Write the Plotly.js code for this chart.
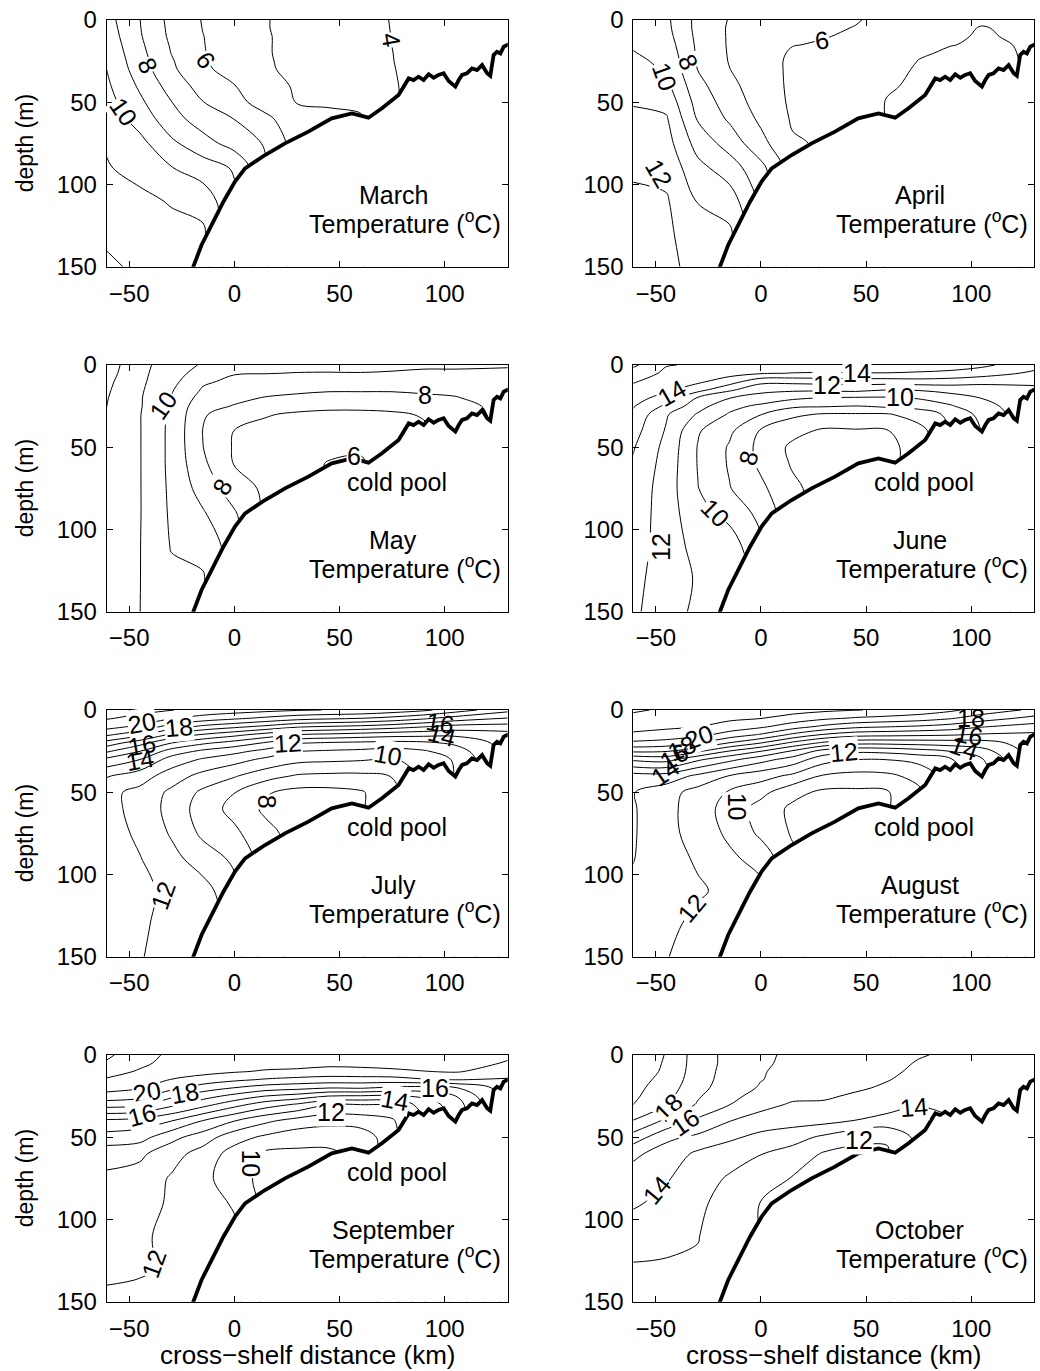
<!DOCTYPE html>
<html>
<head>
<meta charset="utf-8">
<script src="https://cdn.plot.ly/plotly-3.0.1.min.js"></script>
<style>
html,body{margin:0;padding:0;background:#fff;}
#chart{width:1040px;height:1371px;}
</style>
</head>
<body>
<div id="chart"></div>
<script>
// ---------------- DATA ----------------
// cross-shelf stations (km) and depth levels (m)
const stationsKm = [-61, -45, -30, -15, 0, 15, 30, 45, 60, 75, 90, 105, 130];
const depthsM = [0, 5, 10, 15, 20, 25, 30, 40, 50, 60, 75, 90, 110, 130, 150];

const xTicks = [-50, 0, 50, 100];
const yTicks = [0, 50, 100, 150];
const monthNames = ['March', 'April', 'May', 'June', 'July', 'August', 'September', 'October'];
const coldPoolMonths = ['May', 'June', 'July', 'August', 'September'];

// bottom topography (km, m)
const bathyX = [-21, -19.5, -15.6, -10, -5.2, 0.3, 5.1, 14.6, 24.1, 35.2, 46.3, 55.9, 63.8, 70.2, 78.1,
  82.9, 85.2, 87.6, 90.0, 92.4, 94.8, 97.1, 99.5, 101.9, 105.1, 106.7, 108.3, 110.6, 113.0, 115.4,
  117.8, 120.2, 121.7, 123.3, 124.9, 126.5, 128.1, 130.5];
const bathyDepth = [155, 150, 136.8, 122.6, 110.5, 98.3, 90.2, 82.1, 75.0, 67.9, 59.8, 56.8, 59.4, 53.7, 45.6,
  35.5, 36.5, 34.5, 36.5, 33.0, 35.1, 33.4, 32.4, 37.1, 40.5, 36.5, 33.4, 32.4, 29.4, 30.4,
  27.4, 32.4, 33.9, 21.3, 19.3, 20.3, 16.2, 14.8];

// temperature profiles (deg C): one profile per station (stationsKm order), values at depthsM
const tempMarch = [
  [9.4, 9.5, 9.6, 9.7, 9.8, 9.9, 10.02, 10.2, 10.4, 10.6, 10.9, 11.1, 11.6, 11.9, 12.1],
  [8.02, 8.05, 8.1, 8.2, 8.3, 8.4, 8.5, 8.85, 9.2, 9.6, 10.3, 10.6, 11.3, 11.7, 11.9],
  [6.7, 6.75, 6.8, 6.9, 6.98, 7.1, 7.2, 7.6, 8.03, 8.4, 9.2, 10.05, 10.9, 11.4, 11.7],
  [5.95, 5.98, 6.02, 6.03, 6.05, 6.08, 6.15, 6.6, 7.03, 7.5, 8.4, 9.5, 10.6, 11.2, 11.5],
  [5.5, 5.5, 5.55, 5.6, 5.6, 5.65, 5.7, 6.03, 6.3, 6.98, 7.6, 8.9, 9.2, 9.2, 9.2],
  [5.03, 5.03, 5.05, 5.05, 5.05, 5.07, 5.1, 5.3, 5.6, 6.2, 6.9, 7.1, 7.1, 7.1, 7.1],
  [4.8, 4.8, 4.8, 4.8, 4.8, 4.8, 4.8, 4.9, 4.95, 5.4, 5.5, 5.5, 5.5, 5.5, 5.5],
  [4.5, 4.5, 4.5, 4.5, 4.5, 4.5, 4.6, 4.75, 4.9, 5.2, 5.2, 5.2, 5.2, 5.2, 5.2],
  [4.25, 4.25, 4.25, 4.25, 4.25, 4.25, 4.3, 4.5, 4.8, 5.1, 5.1, 5.1, 5.1, 5.1, 5.1],
  [3.97, 3.98, 3.99, 3.995, 4.01, 4.02, 4.04, 4.08, 4.1, 4.1, 4.1, 4.1, 4.1, 4.1, 4.1],
  [3.7, 3.7, 3.7, 3.7, 3.7, 3.7, 3.7, 3.7, 3.7, 3.7, 3.7, 3.7, 3.7, 3.7, 3.7],
  [3.5, 3.5, 3.5, 3.5, 3.5, 3.5, 3.5, 3.5, 3.5, 3.5, 3.5, 3.5, 3.5, 3.5, 3.5],
  [3.4, 3.4, 3.4, 3.4, 3.4, 3.4, 3.4, 3.4, 3.4, 3.4, 3.4, 3.4, 3.4, 3.4, 3.4]
];
const tempApril = [
  [9.6, 9.65, 9.75, 9.9, 10.05, 10.2, 10.35, 10.6, 10.95, 11.15, 11.5, 11.85, 12.2, 12.4, 12.5],
  [9.2, 9.25, 9.35, 9.5, 9.65, 9.8, 9.9, 10.25, 10.7, 11.1, 11.4, 11.7, 12.1, 12.2, 12.3],
  [7.7, 7.7, 7.75, 7.8, 7.85, 7.9, 7.97, 8.3, 8.6, 8.9, 9.6, 10.3, 10.95, 11.4, 11.6],
  [6.95, 6.9, 6.9, 6.9, 6.92, 6.95, 7.02, 7.3, 7.55, 7.85, 8.6, 9.5, 10.5, 11.2, 11.3],
  [6.5, 6.5, 6.5, 6.45, 6.4, 6.35, 6.35, 6.4, 6.55, 6.8, 7.3, 8.3, 8.8, 9.1, 9.1],
  [6.3, 6.25, 6.15, 6.03, 5.9, 5.85, 5.85, 5.85, 5.85, 5.9, 6.1, 6.5, 6.5, 6.5, 6.5],
  [6.2, 6.12, 6.03, 5.93, 5.85, 5.8, 5.75, 5.7, 5.7, 5.75, 5.9, 5.9, 5.9, 5.9, 5.9],
  [6.05, 5.97, 5.9, 5.85, 5.8, 5.75, 5.7, 5.65, 5.6, 5.6, 5.6, 5.6, 5.6, 5.6, 5.6],
  [5.8, 5.7, 5.6, 5.55, 5.5, 5.4, 5.3, 5.1, 4.95, 4.95, 4.95, 4.95, 4.95, 4.95, 4.95],
  [5.5, 5.4, 5.3, 5.2, 5.08, 4.98, 4.9, 4.85, 4.85, 4.85, 4.85, 4.85, 4.85, 4.85, 4.85],
  [5.25, 5.15, 5.08, 5.02, 4.92, 4.88, 4.85, 4.85, 4.85, 4.85, 4.85, 4.85, 4.85, 4.85, 4.85],
  [5.08, 4.97, 4.95, 4.93, 4.9, 4.88, 4.85, 4.85, 4.85, 4.85, 4.85, 4.85, 4.85, 4.85, 4.85],
  [5.3, 5.15, 5.1, 5.05, 5.05, 5.05, 5.05, 5.05, 5.05, 5.05, 5.05, 5.05, 5.05, 5.05, 5.05]
];
const tempMay = [
  [12.5, 12.4, 12.25, 12.15, 12.07, 12.02, 11.95, 11.9, 11.85, 11.8, 11.75, 11.7, 11.65, 11.6, 11.6],
  [11.3, 11.25, 11.2, 11.15, 11.1, 11.1, 11.05, 11.05, 11.05, 11.05, 11.05, 11.05, 11.03, 11.02, 11.01],
  [10.5, 10.4, 10.3, 10.1, 9.95, 9.85, 9.8, 9.75, 9.75, 9.75, 9.8, 9.85, 9.95, 10.2, 10.3],
  [9.9, 9.6, 9.15, 8.9, 8.6, 8.3, 8.1, 7.98, 8.02, 8.2, 8.6, 9.1, 9.7, 10.1, 10.2],
  [9.3, 9.05, 8.8, 8.5, 8.2, 7.95, 7.5, 6.98, 6.9, 6.95, 7.5, 8.1, 8.5, 8.5, 8.5],
  [9.25, 9.02, 8.7, 8.3, 7.95, 7.6, 7.05, 6.8, 6.7, 6.7, 6.8, 6.8, 6.8, 6.8, 6.8],
  [9.2, 8.98, 8.6, 8.2, 7.8, 7.25, 6.9, 6.6, 6.4, 6.3, 6.3, 6.3, 6.3, 6.3, 6.3],
  [9.2, 8.97, 8.5, 8.1, 7.7, 7.2, 6.8, 6.5, 6.2, 5.95, 5.95, 5.95, 5.95, 5.95, 5.95],
  [9.2, 8.98, 8.55, 8.1, 7.7, 7.2, 6.8, 6.4, 6.1, 5.9, 5.9, 5.9, 5.9, 5.9, 5.9],
  [9.15, 8.95, 8.55, 8.1, 7.7, 7.2, 6.9, 6.6, 6.5, 6.5, 6.5, 6.5, 6.5, 6.5, 6.5],
  [9.1, 8.9, 8.55, 8.15, 7.85, 7.45, 7.05, 6.9, 6.9, 6.9, 6.9, 6.9, 6.9, 6.9, 6.9],
  [9.1, 8.9, 8.6, 8.2, 7.95, 7.6, 7.4, 7.2, 7.2, 7.2, 7.2, 7.2, 7.2, 7.2, 7.2],
  [9.05, 8.9, 8.6, 8.4, 8.4, 8.4, 8.4, 8.4, 8.4, 8.4, 8.4, 8.4, 8.4, 8.4, 8.4]
];
const tempJune = [
  [16.2, 15.6, 15.1, 14.7, 14.4, 14.1, 13.8, 13.4, 13.1, 12.9, 12.7, 12.6, 12.4, 12.3, 12.2],
  [15.05, 14.8, 14.5, 14.2, 13.6, 12.8, 12.1, 11.9, 11.7, 11.6, 11.5, 11.5, 11.6, 11.5, 11.4],
  [14.9, 14.6, 14.2, 13.4, 11.9, 11.4, 10.9, 10.1, 9.95, 9.95, 10.03, 10.3, 10.6, 10.9, 10.8],
  [14.8, 14.35, 13.5, 12.2, 11.03, 10.3, 9.9, 9.2, 8.9, 8.9, 9.05, 9.7, 10.5, 10.9, 10.85],
  [14.7, 14.1, 12.3, 11.3, 10.6, 9.8, 9.03, 7.9, 7.7, 7.8, 8.2, 8.7, 9.2, 9.5, 9.6],
  [14.6, 13.97, 12.3, 11.2, 10.2, 9.2, 8.2, 7.3, 6.8, 6.9, 7.2, 7.3, 7.3, 7.3, 7.3],
  [14.5, 13.95, 12.4, 11.2, 9.97, 9.1, 7.9, 6.85, 6.6, 6.6, 6.6, 6.6, 6.6, 6.6, 6.6],
  [14.6, 13.96, 12.5, 11.3, 9.9, 8.97, 7.9, 6.9, 6.6, 6.6, 6.6, 6.6, 6.6, 6.6, 6.6],
  [14.6, 13.97, 12.5, 11.03, 9.9, 9.2, 7.9, 6.95, 6.8, 6.8, 6.8, 6.8, 6.8, 6.8, 6.8],
  [14.5, 13.9, 12.6, 11.1, 10.1, 9.3, 8.5, 7.6, 7.3, 7.3, 7.3, 7.3, 7.3, 7.3, 7.3],
  [14.4, 13.8, 12.5, 11.4, 10.5, 9.9, 9.2, 9.03, 9.03, 9.03, 9.03, 9.03, 9.03, 9.03, 9.03],
  [14.2, 13.5, 12.3, 11.5, 11.03, 10.6, 10.3, 10.03, 10.03, 10.03, 10.03, 10.03, 10.03, 10.03, 10.03],
  [13.4, 12.8, 12.2, 11.8, 11.8, 11.8, 11.8, 11.8, 11.8, 11.8, 11.8, 11.8, 11.8, 11.8, 11.8]
];
const tempJuly = [
  [21.6, 21.1, 20.4, 19.2, 17.6, 16.2, 14.8, 13.1, 12.3, 12.4, 12.5, 12.5, 12.4, 12.3, 12.2],
  [21.3, 20.7, 19.8, 18.3, 16.4, 15.03, 14.03, 12.5, 11.7, 11.6, 11.8, 12.04, 12.1, 12.1, 12.05],
  [21.03, 20.1, 18.6, 16.8, 15.03, 13.6, 12.6, 11.5, 10.8, 10.7, 10.9, 11.3, 11.9, 11.8, 11.7],
  [20.7, 19.6, 17.8, 15.9, 14.2, 12.8, 11.9, 10.7, 9.8, 9.5, 9.8, 10.5, 11.4, 11.7, 11.6],
  [20.5, 19.2, 17.3, 15.3, 13.6, 12.3, 11.4, 10.1, 9.03, 8.7, 9.2, 9.8, 10.3, 10.5, 10.5],
  [20.3, 18.8, 16.8, 14.6, 12.9, 11.7, 10.8, 9.4, 8.1, 7.8, 8.3, 8.5, 8.5, 8.5, 8.5],
  [20.1, 18.4, 16.2, 13.97, 12.1, 11.03, 10.3, 8.9, 7.7, 7.5, 7.6, 7.6, 7.6, 7.6, 7.6],
  [19.97, 18.2, 15.97, 13.8, 11.9, 10.9, 10.2, 8.8, 7.7, 7.6, 7.6, 7.6, 7.6, 7.6, 7.6],
  [19.9, 18.03, 15.8, 13.6, 11.8, 10.8, 10.1, 8.8, 7.9, 7.9, 7.9, 7.9, 7.9, 7.9, 7.9],
  [19.6, 17.7, 15.5, 13.4, 11.7, 10.6, 9.9, 9.03, 8.6, 8.6, 8.6, 8.6, 8.6, 8.6, 8.6],
  [19.2, 17.2, 15.1, 13.3, 11.8, 10.9, 10.4, 10.2, 10.2, 10.2, 10.2, 10.2, 10.2, 10.2, 10.2],
  [18.5, 16.6, 14.7, 13.2, 12.2, 11.5, 11.1, 11.03, 11.03, 11.03, 11.03, 11.03, 11.03, 11.03, 11.03],
  [17.3, 15.97, 14.6, 13.6, 13.4, 13.4, 13.4, 13.4, 13.4, 13.4, 13.4, 13.4, 13.4, 13.4, 13.4]
];
const tempAugust = [
  [22.1, 21.8, 21.4, 20.8, 19.8, 18.2, 16.2, 13.6, 13.05, 13.1, 13.1, 13.05, 12.8, 12.6, 12.5],
  [21.9, 21.6, 21.2, 20.6, 19.6, 18.1, 16.4, 13.6, 12.4, 12.3, 12.3, 12.3, 12.3, 12.2, 12.04],
  [21.8, 21.4, 21.03, 20.3, 19.03, 17.2, 15.2, 12.8, 11.6, 11.5, 11.6, 11.9, 12.1, 11.8, 11.6],
  [21.7, 21.2, 20.6, 19.6, 17.97, 15.97, 14.3, 11.97, 10.9, 10.6, 10.8, 11.2, 11.8, 11.7, 11.6],
  [21.6, 21.03, 20.2, 18.9, 17.03, 15.03, 13.4, 11.4, 10.3, 9.6, 9.8, 10.6, 11.3, 11.5, 11.5],
  [21.4, 20.6, 19.5, 17.8, 15.8, 13.9, 12.6, 10.8, 9.3, 8.8, 8.9, 9.2, 9.2, 9.2, 9.2],
  [21.2, 20.2, 18.8, 16.9, 14.8, 12.6, 11.4, 9.9, 8.8, 8.6, 8.6, 8.6, 8.6, 8.6, 8.6],
  [21.03, 19.9, 18.3, 16.4, 14.3, 12.2, 11.03, 9.7, 8.8, 8.7, 8.7, 8.7, 8.7, 8.7, 8.7],
  [20.9, 19.7, 18.1, 16.3, 14.3, 12.3, 11.03, 9.8, 8.9, 8.9, 8.9, 8.9, 8.9, 8.9, 8.9],
  [20.6, 19.5, 17.9, 16.2, 14.4, 12.6, 11.3, 10.3, 9.8, 9.8, 9.8, 9.8, 9.8, 9.8, 9.8],
  [20.2, 19.1, 17.6, 16.1, 14.5, 13.03, 11.9, 11.5, 11.5, 11.5, 11.5, 11.5, 11.5, 11.5, 11.5],
  [19.6, 18.5, 17.1, 15.9, 14.6, 13.6, 12.9, 12.6, 12.6, 12.6, 12.6, 12.6, 12.6, 12.6, 12.6],
  [18.8, 17.7, 16.6, 15.8, 15.5, 15.5, 15.5, 15.5, 15.5, 15.5, 15.5, 15.5, 15.5, 15.5, 15.5]
];
const tempSeptember = [
  [22.2, 21.9, 21.4, 20.9, 20.4, 19.6, 18.5, 15.8, 14.6, 13.4, 12.8, 12.5, 12.2, 12.05, 11.95],
  [21.4, 21.2, 20.9, 20.5, 20.1, 19.3, 18.3, 15.6, 14.4, 13.2, 12.6, 12.3, 12.1, 12.04, 11.9],
  [20.8, 20.7, 20.5, 19.97, 19.3, 18.2, 17.3, 15.03, 13.3, 12.4, 11.9, 11.9, 11.85, 11.95, 11.8],
  [20.6, 20.5, 20.3, 19.6, 18.5, 17.4, 16.4, 13.97, 12.5, 11.6, 11.3, 11.4, 11.6, 11.6, 11.6],
  [20.5, 20.4, 20.1, 19.2, 17.97, 16.7, 15.4, 13.03, 11.4, 10.6, 10.4, 10.9, 11.2, 11.3, 11.3],
  [20.6, 20.4, 19.9, 18.9, 17.5, 15.97, 14.5, 12.2, 10.8, 9.8, 9.7, 9.7, 9.7, 9.7, 9.7],
  [20.7, 20.4, 19.8, 18.7, 17.3, 15.6, 13.9, 11.6, 10.4, 9.8, 9.8, 9.8, 9.8, 9.8, 9.8],
  [20.6, 20.3, 19.6, 18.6, 17.03, 14.97, 13.03, 11.3, 10.4, 9.8, 9.8, 9.8, 9.8, 9.8, 9.8],
  [20.7, 20.3, 19.7, 18.6, 17.1, 14.9, 13.03, 11.4, 10.5, 10.4, 10.4, 10.4, 10.4, 10.4, 10.4],
  [20.8, 20.4, 19.8, 18.6, 16.8, 14.8, 13.2, 11.8, 11.5, 11.5, 11.5, 11.5, 11.5, 11.5, 11.5],
  [20.8, 20.5, 19.97, 18.9, 16.6, 15.2, 14.4, 13.97, 13.97, 13.97, 13.97, 13.97, 13.97, 13.97, 13.97],
  [20.7, 20.5, 20.1, 19.03, 16.9, 15.97, 15.5, 15.3, 15.3, 15.3, 15.3, 15.3, 15.3, 15.3, 15.3],
  [20.2, 19.9, 19.5, 18.9, 18.5, 18.5, 18.5, 18.5, 18.5, 18.5, 18.5, 18.5, 18.5, 18.5, 18.5]
];
const tempOctober = [
  [19.7, 19.6, 19.5, 19.4, 19.3, 19.2, 19.05, 17.97, 16.6, 15.2, 14.6, 14.15, 13.4, 12.9, 12.7],
  [18.95, 18.9, 18.85, 18.7, 18.5, 18.3, 18.03, 16.8, 15.2, 14.6, 14.1, 13.7, 13.2, 12.9, 12.7],
  [17.5, 17.5, 17.45, 17.4, 17.3, 17.1, 16.9, 15.8, 14.8, 13.8, 13.4, 13.2, 13.03, 12.9, 12.8],
  [16.7, 16.7, 16.65, 16.6, 16.5, 16.3, 16.03, 15.03, 14.2, 13.4, 12.9, 12.6, 12.5, 12.6, 12.6],
  [16.1, 16.1, 16.05, 16.03, 15.9, 15.6, 15.3, 14.6, 13.7, 13.03, 12.4, 11.97, 11.97, 11.97, 11.97],
  [15.9, 15.85, 15.8, 15.7, 15.5, 15.2, 14.9, 14.4, 13.4, 12.6, 11.95, 11.9, 11.9, 11.9, 11.9],
  [15.7, 15.6, 15.5, 15.4, 15.3, 15.1, 14.9, 14.3, 12.8, 11.9, 11.8, 11.8, 11.8, 11.8, 11.8],
  [15.5, 15.4, 15.3, 15.2, 15.1, 14.9, 14.6, 13.97, 12.2, 11.8, 11.8, 11.8, 11.8, 11.8, 11.8],
  [15.3, 15.2, 15.1, 15.03, 14.9, 14.8, 14.5, 13.6, 12.1, 11.9, 11.9, 11.9, 11.9, 11.9, 11.9],
  [15.05, 14.95, 14.9, 14.8, 14.7, 14.5, 14.1, 13.3, 13.3, 13.3, 13.3, 13.3, 13.3, 13.3, 13.3],
  [14.9, 14.85, 14.8, 14.7, 14.5, 14.3, 14.1, 13.97, 13.97, 13.97, 13.97, 13.97, 13.97, 13.97, 13.97],
  [14.8, 14.75, 14.7, 14.65, 14.6, 14.5, 14.4, 14.4, 14.4, 14.4, 14.4, 14.4, 14.4, 14.4, 14.4],
  [14.6, 14.6, 14.6, 14.6, 14.6, 14.6, 14.6, 14.6, 14.6, 14.6, 14.6, 14.6, 14.6, 14.6, 14.6]
];

// isotherm label placement: [label value, km, depth m, text angle deg, white box 1/0]
const labelsMarch = [[10, -52.4, 55.7, 55, 1], [8, -41.3, 27.4, 65, 1], [6, -13.5, 24.3, 55, 1], [4, 74.6, 12.2, 80, 1]];
const labelsApril = [[6, 29, 12.2, -8, 1], [8, -34.4, 25.3, 65, 1], [10, -45.6, 34.5, 70, 1], [12, -48.7, 93.2, 60, 1]];
const labelsMay = [[10, -33.8, 24.3, -55, 1], [8, 90.5, 18.2, 0, 1], [6, 56.7, 55.5, 0, 1], [8, -6, 74, -60, 1]];
const labelsJune = [[14, -42.4, 17.2, -30, 1], [12, 31.4, 12.2, 0, 1], [14, 45.7, 5, 0, 1], [10, 66.3, 19.3, 0, 1],
  [8, -5.9, 56.8, -75, 1], [10, -21.7, 90.2, 45, 1], [12, -47.9, 110.5, -90, 1]];
const labelsJuly = [[20, -44.1, 8.1, -10, 1], [18, -26.2, 10.1, -5, 1], [16, -44.1, 21.3, -10, 0], [14, -44.9, 30.4, -10, 0],
  [12, 25.7, 20.3, -3, 1], [16, 97.9, 8.1, 10, 0], [14, 98.7, 15.2, 15, 0], [10, 73, 27.4, 10, 1],
  [8, 15.9, 55.7, 90, 1], [12, -33.8, 112.5, -70, 1]];
const labelsAugust = [[20, -29.7, 16.2, -20, 1], [18, -37.6, 23.3, -25, 0], [16, -41.6, 28.4, -30, 0], [14, -45.6, 37.5, -35, 0],
  [12, 39.4, 25.3, -5, 1], [18, 99.7, 5.1, 0, 0], [16, 98.9, 15.2, 10, 0], [14, 96.5, 23.3, 20, 0],
  [10, -11.4, 58.8, 90, 1], [12, -32.9, 120.6, -50, 1]];
const labelsSeptember = [[20, -41.7, 22.3, -10, 1], [18, -23.5, 23.3, -10, 1], [16, -44.1, 36.5, -15, 1],
  [12, 46, 34.5, 0, 1], [14, 76.2, 27.4, 10, 1], [16, 95.2, 20.3, 0, 1], [10, 7.9, 65.9, 90, 1], [12, -38.1, 126.7, -70, 1]];
const labelsOctober = [[18, -44, 31.4, -45, 1], [16, -36, 40.5, -35, 1], [14, 72.7, 31.4, -5, 1], [12, 46.5, 51.7, 0, 1],
  [14, -49.5, 82.1, -50, 1]];

// ---------------- STYLE / LAYOUT ----------------
const FONT = 'Liberation Sans, Arial, Helvetica, sans-serif';
const xRange = [-60.7, 130];
const depthRange = [150, 0];
const colDomains = [[0.1026, 0.4882], [0.6090, 0.9945]];
const rowDomains = [[0.80547, 0.98541], [0.55383, 0.73377], [0.30219, 0.48213], [0.05054, 0.23049]];

const monthProfiles = [tempMarch, tempApril, tempMay, tempJune, tempJuly, tempAugust, tempSeptember, tempOctober];
const monthLabels = [labelsMarch, labelsApril, labelsMay, labelsJune, labelsJuly, labelsAugust, labelsSeptember, labelsOctober];

function toGrid(profiles) {
  return depthsM.map((_, i) => profiles.map(p => p[i]));
}

const traces = [];
const annotations = [];
const layout = {
  width: 1040, height: 1371,
  margin: {l: 0, r: 0, t: 0, b: 0},
  paper_bgcolor: '#ffffff', plot_bgcolor: '#ffffff',
  showlegend: false,
  font: {family: FONT, size: 24, color: '#000'},
  annotations: annotations
};

monthNames.forEach((name, i) => {
  const row = Math.floor(i / 2), col = i % 2;
  const sfx = i === 0 ? '' : String(i + 1);
  const xa = 'x' + sfx, ya = 'y' + sfx;
  const z = toGrid(monthProfiles[i]);

  const axisCommon = {
    ticks: 'inside', ticklen: 6, tickwidth: 1, tickcolor: '#000',
    showline: true, linecolor: '#000', linewidth: 1, mirror: 'ticks',
    showgrid: false, zeroline: false, fixedrange: true,
    tickfont: {family: FONT, size: 24, color: '#000'}
  };
  layout['xaxis' + sfx] = Object.assign({}, axisCommon, {
    domain: colDomains[col], anchor: ya, range: xRange, tickvals: xTicks,
    ticklabelstandoff: 5
  });
  layout['yaxis' + sfx] = Object.assign({}, axisCommon, {
    domain: rowDomains[row], anchor: xa, range: depthRange, tickvals: yTicks,
    ticklabelstandoff: 4
  });

  // isotherms every 1 deg C
  traces.push({
    type: 'contour', x: stationsKm, y: depthsM, z: z, xaxis: xa, yaxis: ya,
    autocontour: false, showscale: false, hoverinfo: 'skip',
    contours: {coloring: 'none', start: 1, end: 25, size: 1, showlabels: false},
    line: {color: '#000', width: 1, smoothing: 1}
  });
  // white mask below the sea floor
  traces.push({
    type: 'scatter', mode: 'lines', xaxis: xa, yaxis: ya, hoverinfo: 'skip',
    x: bathyX.concat([bathyX[bathyX.length - 1], bathyX[0]]),
    y: bathyDepth.concat([depthRange[0], depthRange[0]]),
    fill: 'toself', fillcolor: '#ffffff', line: {width: 0, color: 'rgba(0,0,0,0)'}
  });
  // sea floor
  traces.push({
    type: 'scatter', mode: 'lines', xaxis: xa, yaxis: ya, hoverinfo: 'skip',
    x: bathyX, y: bathyDepth, line: {color: '#000', width: 3.8}
  });

  // inline isotherm labels
  monthLabels[i].forEach(l => {
    annotations.push({xref: xa, yref: ya, x: l[1], y: l[2], text: String(l[0]), textangle: l[3],
      showarrow: false, bgcolor: l[4] ? '#ffffff' : 'rgba(0,0,0,0)', borderpad: 0,
      font: {family: FONT, size: 25, color: '#000'}});
  });

  annotations.push({xref: xa, yref: ya, x: 75.5, y: 106.5, text: name, showarrow: false,
    font: {family: FONT, size: 25, color: '#000'}});
  annotations.push({xref: xa, yref: ya, x: 81.3, y: 123, text: 'Temperature (<sup>o</sup>C)', showarrow: false,
    font: {family: FONT, size: 25, color: '#000'}});
  if (coldPoolMonths.indexOf(name) >= 0) {
    annotations.push({xref: xa, yref: ya, x: 77.5, y: 71, text: 'cold pool', showarrow: false,
      font: {family: FONT, size: 25, color: '#000'}});
  }
  if (col === 0) {
    const yc = (rowDomains[row][0] + rowDomains[row][1]) / 2;
    annotations.push({xref: 'paper', yref: 'paper', x: 25 / 1040, y: yc, text: 'depth (m)',
      textangle: -90, showarrow: false, xanchor: 'center', yanchor: 'middle',
      font: {family: FONT, size: 23, color: '#000'}});
  }
  if (row === 3) {
    const xc = (colDomains[col][0] + colDomains[col][1]) / 2;
    annotations.push({xref: 'paper', yref: 'paper', x: xc, y: 1 - 1355 / 1371,
      text: 'cross\u2212shelf distance (km)', showarrow: false, xanchor: 'center', yanchor: 'middle',
      font: {family: FONT, size: 26, color: '#000'}});
  }
});

Plotly.newPlot('chart', traces, layout, {staticPlot: true, displayModeBar: false});
</script>
</body>
</html>
